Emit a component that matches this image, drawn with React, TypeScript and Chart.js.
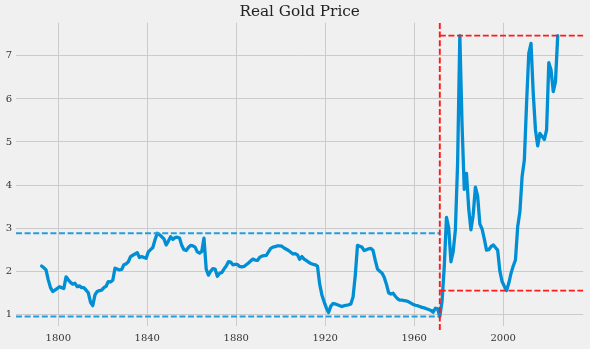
import React, { useEffect, useRef } from "react";
import { Chart, registerables } from "chart.js";

Chart.register(...registerables);

const years: number[] = [];
for (let y = 1792; y <= 2024; y++) years.push(y);

const prices: number[] = [
  2.12, 2.08, 2.03, 1.8, 1.62, 1.53, 1.56, 1.6, 1.64, 1.62,
  1.6, 1.87, 1.8, 1.74, 1.7, 1.72, 1.64, 1.66, 1.62, 1.62,
  1.56, 1.5, 1.28, 1.2, 1.45, 1.53, 1.55, 1.56, 1.62, 1.65,
  1.76, 1.75, 1.79, 2.07, 2.05, 2.03, 2.04, 2.15, 2.17, 2.22,
  2.34, 2.37, 2.4, 2.43, 2.32, 2.34, 2.32, 2.3, 2.45, 2.5,
  2.55, 2.73, 2.88, 2.85, 2.8, 2.75, 2.61, 2.7, 2.8, 2.74,
  2.78, 2.79, 2.77, 2.6, 2.5, 2.48, 2.55, 2.6, 2.59, 2.56,
  2.45, 2.42, 2.46, 2.77, 2.05, 1.91, 2.0, 2.06, 2.05, 1.88,
  1.95, 1.97, 2.05, 2.12, 2.22, 2.21, 2.15, 2.16, 2.16, 2.11,
  2.1, 2.11, 2.15, 2.19, 2.24, 2.28, 2.26, 2.25, 2.32, 2.35,
  2.36, 2.37, 2.45, 2.53, 2.56, 2.57, 2.59, 2.59, 2.58, 2.54,
  2.51, 2.48, 2.44, 2.4, 2.41, 2.38, 2.28, 2.34, 2.28, 2.25,
  2.21, 2.18, 2.16, 2.15, 2.12, 1.7, 1.45, 1.29, 1.15, 1.04,
  1.19, 1.25, 1.24, 1.22, 1.2, 1.18, 1.2, 1.21, 1.22, 1.24,
  1.4, 1.9, 2.6, 2.58, 2.56, 2.48, 2.5, 2.52, 2.53, 2.48,
  2.25, 2.05, 2.0, 1.96, 1.86, 1.7, 1.5, 1.47, 1.49, 1.42,
  1.36, 1.33, 1.33, 1.32, 1.31, 1.29, 1.26, 1.23, 1.21, 1.2,
  1.18, 1.16, 1.15, 1.13, 1.11, 1.09, 1.05, 1.14, 1.13, 0.95,
  1.3, 2.1, 3.25, 3.0, 2.22, 2.45, 2.96, 4.5, 7.47, 5.4,
  3.9, 4.27, 3.45, 2.96, 3.3, 3.95, 3.75, 3.1, 2.98, 2.75,
  2.49, 2.5, 2.57, 2.61, 2.55, 2.49, 2.0, 1.76, 1.65, 1.55,
  1.72, 1.95, 2.12, 2.26, 3.03, 3.38, 4.2, 4.58, 5.9, 7.06,
  7.29, 6.13, 5.28, 4.91, 5.2, 5.13, 5.06, 5.28, 6.84, 6.67,
  6.17, 6.4, 7.47,
];

const xTickLabels: number[] = [1800, 1840, 1880, 1920, 1960, 2000];
const yTickLabels: number[] = [1, 2, 3, 4, 5, 6, 7];

const breakYear = 1971.5;
const xMin = 1781;
const xMax = 2036;
const yMin = 0.74;
const yMax = 7.77;
const beforeMax = 2.88;
const beforeMin = 0.95;
const afterMax = 7.47;
const afterMin = 1.55;
const vlineBottom = 0.635;

export default function App() {
  const ref = useRef<HTMLCanvasElement | null>(null);

  useEffect(() => {
    document.body.style.margin = "0";
    document.body.style.background = "#f0f0f0";
    const canvas = ref.current;
    if (!canvas) return;

    const dashBlue = "#229ee0";
    const dashRed = "#ff1a1a";
    const dash = [6, 2.6];
    const dashW = 1.9;

    const chart = new Chart(canvas, {
      type: "line",
      data: {
        datasets: [
          {
            data: [
              { x: breakYear, y: vlineBottom },
              { x: breakYear, y: yMax },
            ],
            borderColor: dashRed,
            borderWidth: dashW,
            borderDash: dash,
            pointRadius: 0,
            clip: false as any,
          },
          {
            data: [
              { x: breakYear, y: afterMax },
              { x: xMax, y: afterMax },
            ],
            borderColor: dashRed,
            borderWidth: dashW,
            borderDash: dash,
            pointRadius: 0,
          },
          {
            data: [
              { x: breakYear, y: afterMin },
              { x: xMax, y: afterMin },
            ],
            borderColor: dashRed,
            borderWidth: dashW,
            borderDash: dash,
            pointRadius: 0,
          },
          {
            data: [
              { x: xMin, y: beforeMax },
              { x: breakYear, y: beforeMax },
            ],
            borderColor: dashBlue,
            borderWidth: dashW,
            borderDash: dash,
            pointRadius: 0,
          },
          {
            data: [
              { x: xMin, y: beforeMin },
              { x: breakYear, y: beforeMin },
            ],
            borderColor: dashBlue,
            borderWidth: dashW,
            borderDash: dash,
            pointRadius: 0,
          },
          {
            data: years.map((yr, i) => ({ x: yr + 0.5, y: prices[i] })),
            borderColor: "#008fd5",
            borderWidth: 3.3,
            pointRadius: 0,
            tension: 0,
            borderJoinStyle: "round",
            borderCapStyle: "round",
          },
        ],
      },
      options: {
        responsive: false,
        animation: false,
        events: [],
        layout: { padding: { left: 0, right: 6.7, top: 0, bottom: 0 } },
        plugins: {
          legend: { display: false },
          tooltip: { enabled: false },
          title: {
            display: true,
            text: "Real Gold Price",
            fullSize: false,
            color: "#222",
            font: { family: "'DejaVu Serif'", size: 15.3, weight: "normal" },
            padding: { top: 3, bottom: 1.3 },
          },
        },
        scales: {
          x: {
            type: "linear",
            min: xMin,
            max: xMax,
            afterFit: (s: any) => {
              s.height = 23.5;
            },
            afterBuildTicks: (s: any) => {
              s.ticks = xTickLabels.map((v) => ({ value: v }));
            },
            grid: { color: "#cbcbcb", lineWidth: 1, drawTicks: false },
            border: { display: false },
            ticks: {
              padding: 7,
              color: "#333",
              font: { family: "'DejaVu Serif'", size: 10 },
              callback: (v: any) => String(v),
            },
          },
          y: {
            type: "linear",
            min: yMin,
            max: yMax,
            afterFit: (s: any) => {
              s.width = 16;
            },
            afterBuildTicks: (s: any) => {
              s.ticks = yTickLabels.map((v) => ({ value: v }));
            },
            grid: { color: "#cbcbcb", lineWidth: 1, drawTicks: false },
            border: { display: false },
            ticks: {
              padding: 4,
              color: "#333",
              font: { family: "'DejaVu Serif'", size: 10 },
              callback: (v: any) => String(v),
            },
          },
        },
      },
    });
    return () => chart.destroy();
  }, []);

  return (
    <div style={{ width: 590, height: 349, background: "#f0f0f0" }}>
      <canvas ref={ref} width={590} height={349} style={{ display: "block" }} />
    </div>
  );
}
